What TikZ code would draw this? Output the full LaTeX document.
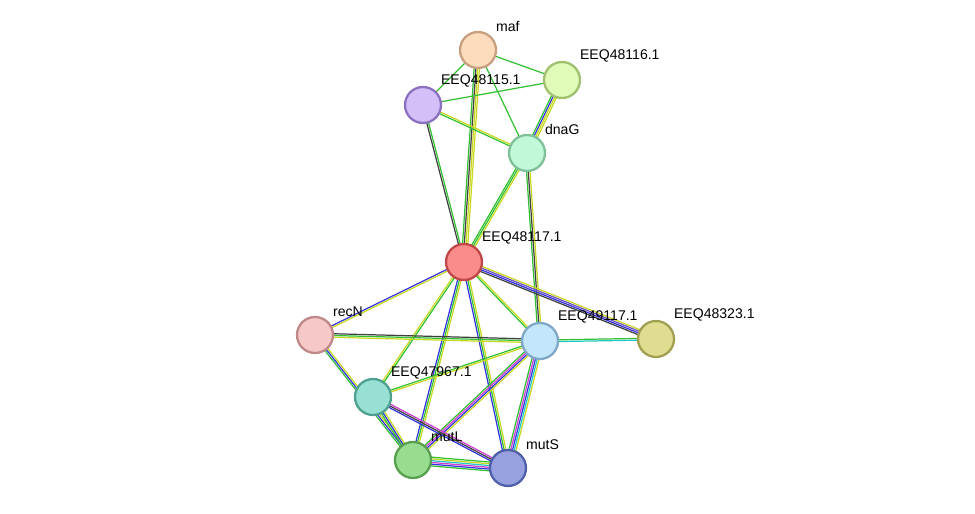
\documentclass[tikz,border=0pt]{standalone}
\usepackage{fontspec}
\setmainfont{Liberation Sans}
\usetikzlibrary{calc}
\definecolor{xg}{HTML}{33C033}
\definecolor{xy}{HTML}{C8D820}
\definecolor{xb}{HTML}{3333E0}
\definecolor{xk}{HTML}{404040}
\definecolor{xm}{HTML}{D040D0}
\definecolor{xc}{HTML}{20C8C8}
\definecolor{xp}{HTML}{7050C0}
\newcommand\medge[4]{%
  \foreach \c [count=\i] in {#4}{%
    \pgfmathsetmacro\off{(\i-(#3+1)/2)*1.0}%
    \draw[draw=\c,line width=0.7pt] ($(#1)!\off pt!90:(#2)$) -- ($(#2)!\off pt!-90:(#1)$);
  }}
\tikzset{
  prot/.style={circle,draw,line width=1.3pt,minimum size=0.72cm,inner sep=0pt},
  lab/.style={font=\fontsize{8}{9}\selectfont,anchor=south west,inner sep=1pt}
}
\begin{document}
\begin{tikzpicture}[x=0.02cm,y=-0.02cm]
\useasboundingbox (0,0) rectangle (975,514);
\coordinate (maf) at (478,50);
\coordinate (e16) at (562,80);
\coordinate (e15) at (423,105);
\coordinate (dna) at (527,153);
\coordinate (e17) at (464,262);
\coordinate (rec) at (315,335);
\coordinate (e49) at (540,341);
\coordinate (e23) at (656,339);
\coordinate (e67) at (373,397);
\coordinate (mtl) at (413,460);
\coordinate (mts) at (508,468);
\medge{maf}{e16}{1}{xg}
\medge{maf}{e15}{1}{xg}
\medge{maf}{dna}{1}{xg}
\medge{maf}{e17}{4}{xg,xk,xy,xy}
\medge{e15}{e16}{1}{xg}
\medge{e15}{dna}{2}{xg,xy}
\medge{e15}{e17}{2}{xk,xg}
\medge{e16}{dna}{4}{xg,xb,xy,xy}
\medge{dna}{e17}{3}{xg,xg,xy}
\medge{dna}{e49}{3}{xg,xk,xy}
\medge{e17}{rec}{2}{xb,xy}
\medge{e17}{e49}{2}{xg,xy}
\medge{e17}{e23}{4}{xk,xb,xp,xy}
\medge{e17}{e67}{2}{xy,xg}
\medge{e17}{mtl}{3}{xb,xg,xy}
\medge{e17}{mts}{3}{xb,xg,xy}
\medge{rec}{e49}{3}{xy,xg,xk}
\medge{rec}{mtl}{3}{xg,xb,xy}
\medge{e49}{e23}{2}{xc,xg}
\medge{e49}{e67}{2}{xg,xy}
\medge{e49}{mtl}{4}{xg,xm,xb,xy}
\medge{e49}{mts}{5}{xg,xm,xb,xc,xy}
\medge{e67}{mtl}{3}{xg,xb,xy}
\medge{e67}{mts}{3}{xb,xk,xm}
\medge{mtl}{mts}{6}{xg,xb,xm,xc,xy,xg}
\node[prot,fill={rgb,255:red,253;green,220;blue,189},draw={rgb,255:red,200;green,160;blue,128}] (n1) at (maf) {};
\node[prot,fill={rgb,255:red,224;green,250;blue,184},draw={rgb,255:red,160;green,192;blue,112}] (n2) at (e16) {};
\node[prot,fill={rgb,255:red,211;green,192;blue,248},draw={rgb,255:red,142;green,112;blue,192}] (n3) at (e15) {};
\node[prot,fill={rgb,255:red,192;green,248;blue,216},draw={rgb,255:red,128;green,192;blue,152}] (n4) at (dna) {};
\node[prot,fill={rgb,255:red,250;green,140;blue,140},draw={rgb,255:red,192;green,72;blue,72}] (n5) at (e17) {};
\node[prot,fill={rgb,255:red,246;green,200;blue,200},draw={rgb,255:red,192;green,136;blue,136}] (n6) at (rec) {};
\node[prot,fill={rgb,255:red,196;green,230;blue,250},draw={rgb,255:red,128;green,168;blue,200}] (n7) at (e49) {};
\node[prot,fill={rgb,255:red,224;green,220;blue,144},draw={rgb,255:red,160;green,160;blue,80}] (n8) at (e23) {};
\node[prot,fill={rgb,255:red,152;green,224;blue,212},draw={rgb,255:red,80;green,160;blue,144}] (n9) at (e67) {};
\node[prot,fill={rgb,255:red,152;green,220;blue,144},draw={rgb,255:red,88;green,160;blue,80}] (n10) at (mtl) {};
\node[prot,fill={rgb,255:red,152;green,160;blue,224},draw={rgb,255:red,80;green,96;blue,168}] (n11) at (mts) {};
\node[lab] (l1) at (494,34) {maf};
\node[lab] (l2) at (578,64) {EEQ48116.1};
\node[lab] (l3) at (439,89) {EEQ48115.1};
\node[lab] (l4) at (543,137) {dnaG};
\node[lab] (l5) at (480,246) {EEQ48117.1};
\node[lab] (l6) at (331,319) {recN};
\node[lab] (l7) at (556,325) {EEQ49117.1};
\node[lab] (l8) at (672,323) {EEQ48323.1};
\node[lab] (l9) at (389,381) {EEQ47967.1};
\node[lab] (l10) at (429,444) {mutL};
\node[lab] (l11) at (524,452) {mutS};
\end{tikzpicture}
\end{document}
